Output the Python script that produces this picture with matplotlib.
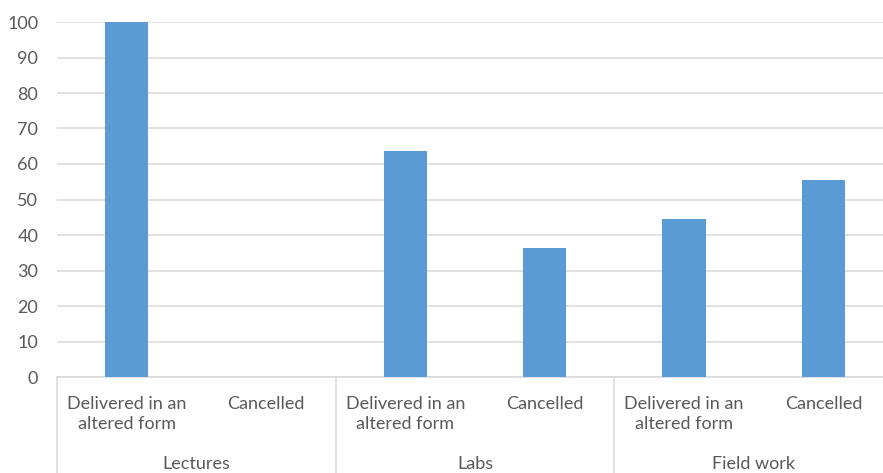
import matplotlib.pyplot as plt
from matplotlib.transforms import blended_transform_factory

groups = ['Lectures', 'Labs', 'Field work']
sub_labels = ['Delivered in an\naltered form', 'Cancelled']
values = [100.0, 0.0, 63.6, 36.4, 44.4, 55.6]

grey = '#595959'
grid_col = '#d9d9d9'
bar_col = '#5b9bd5'

plt.rcParams['font.family'] = ['Lato', 'DejaVu Sans']

fig = plt.figure(figsize=(8.83, 4.73), dpi=100)
# plot area runs a bit past the right edge, like the cropped original
ax = fig.add_axes([57 / 883, 96 / 473, 836 / 883, 355 / 473])

x = list(range(len(values)))
ax.bar(x, values, width=0.31, color=bar_col, zorder=3)

ax.set_xlim(-0.5, 5.5)
ax.set_ylim(0, 100)
ax.set_yticks(range(0, 101, 10))
ax.yaxis.grid(True, color=grid_col, linewidth=1.1, zorder=0)
ax.tick_params(axis='y', length=0, pad=13.5, labelsize=13, labelcolor=grey)

ax.set_xticks(x, [sub_labels[i % 2] for i in x])
ax.tick_params(axis='x', length=0, pad=13.5, labelsize=13, labelcolor=grey)
for t in ax.get_xticklabels():
    t.set_linespacing(1.32)

for s in ['top', 'right', 'left']:
    ax.spines[s].set_visible(False)
ax.spines['bottom'].set_color(grid_col)
ax.spines['bottom'].set_linewidth(1.1)

trans = blended_transform_factory(ax.transData, ax.transAxes)
for b in [-0.5, 1.5, 3.5, 5.5]:
    ax.plot([b, b], [0, -0.3], color=grid_col, lw=1.1, transform=trans, clip_on=False)

for i, g in enumerate(groups):
    ax.text(2 * i + 0.5, -0.222, g, transform=trans, ha='center', va='top',
            fontsize=13, color=grey)

plt.savefig('out.png', dpi=100)
